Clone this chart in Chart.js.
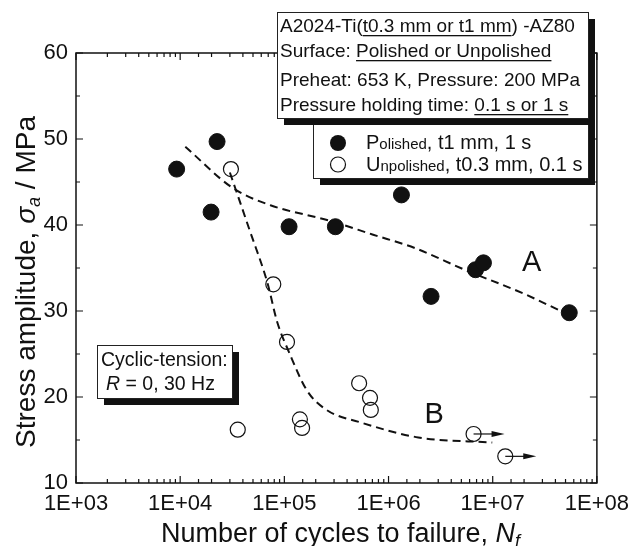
<!DOCTYPE html>
<html>
<head>
<meta charset="utf-8">
<script src="https://cdn.jsdelivr.net/npm/chart.js@4.4.1/dist/chart.umd.min.js"></script>
<style>
  html, body { margin: 0; padding: 0; background: #fff; }
</style>
</head>
<body>
<canvas id="snChart" width="637" height="546"></canvas>
<script>
// Polished, t1 mm, 1 s  (filled circles)
var polishedN = [9.25e3, 2.26e4, 1.98e4, 1.11e5, 3.09e5, 1.33e6, 2.56e6, 6.84e6, 8.15e6, 5.43e7];
var polishedS = [46.5, 49.7, 41.5, 39.8, 39.8, 43.5, 31.7, 34.8, 35.6, 29.8];

// Unpolished, t0.3 mm, 0.1 s  (open circles), last two are run-outs
var unpolishedN = [3.07e4, 7.83e4, 1.06e5, 3.57e4, 1.41e5, 1.48e5, 5.22e5, 6.64e5, 6.76e5, 6.55e6, 1.32e7];
var unpolishedS = [46.5, 33.1, 26.4, 16.2, 17.4, 16.4, 21.6, 19.9, 18.5, 15.7, 13.1];
var unpolishedRunout = [false, false, false, false, false, false, false, false, false, true, true];

// dashed trend curves
var curveAN = [1.12e4, 3.2e4, 7.35e4, 2.72e5, 7.0e5, 1.81e6, 5.37e6, 2.0e7, 4.5e7];
var curveAS = [49.1, 44.3, 42.3, 40.5, 38.9, 37.3, 34.8, 32.0, 30.0];
var curveBN = [3.0e4, 3.42e4, 4.64e4, 6.87e4, 8.55e4, 1.11e5, 1.64e5, 2.54e5, 5.22e5, 1.93e6, 9.9e6];
var curveBS = [46.1, 44.1, 39.4, 33.3, 28.7, 25.2, 20.8, 18.5, 17.1, 15.3, 14.7];

var xMajorTicks = [1e3, 1e4, 1e5, 1e6, 1e7, 1e8];
var yMin = 10, yMax = 60;

var FONT = "'Liberation Sans', Arial, Helvetica, sans-serif";

function toPoints(xs, ys) {
  return xs.map(function(x, i) { return { x: x, y: ys[i] }; });
}

function isMajorX(v) {
  var e = Math.log10(v);
  return Math.abs(e - Math.round(e)) < 1e-6;
}

function expLabel(v) {
  var e = Math.round(Math.log10(v));
  return '1E+' + (e < 10 ? '0' : '') + e;
}

// draw a run of text pieces with different fonts, optional underline
function richText(ctx, parts, x, y, align) {
  var w = 0;
  parts.forEach(function(p) {
    ctx.font = p.font;
    p.w = ctx.measureText(p.t).width;
    w += p.w;
  });
  var cx = align === 'center' ? x - w / 2 : x;
  parts.forEach(function(p) {
    ctx.font = p.font;
    ctx.textAlign = 'left';
    ctx.textBaseline = 'alphabetic';
    ctx.fillText(p.t, cx, y + (p.dy || 0));
    if (p.u) {
      ctx.fillRect(cx, y + 3, p.w, 1.3);
    }
    cx += p.w;
  });
}

function shadowBox(ctx, x, y, w, h) {
  ctx.fillStyle = '#111';
  ctx.fillRect(x + 7, y + 7, w, h);
  ctx.fillStyle = '#fff';
  ctx.fillRect(x, y, w, h);
  ctx.strokeStyle = '#222';
  ctx.lineWidth = 1;
  ctx.strokeRect(x + 0.5, y + 0.5, w, h);
}

var decorations = {
  id: 'decorations',
  afterDraw: function(chart) {
    var ctx = chart.ctx;
    var a = chart.chartArea;
    var xs = chart.scales.x, ys = chart.scales.y;
    ctx.save();

    // frame
    ctx.strokeStyle = '#111';
    ctx.lineWidth = 1.5;
    ctx.strokeRect(a.left, a.top, a.right - a.left, a.bottom - a.top);

    // inward ticks on all four sides
    ctx.lineWidth = 1.2;
    ctx.beginPath();
    xs.ticks.forEach(function(t) {
      var px = xs.getPixelForValue(t.value);
      var len = isMajorX(t.value) ? 7 : 4;
      ctx.moveTo(px, a.bottom); ctx.lineTo(px, a.bottom - len);
      ctx.moveTo(px, a.top); ctx.lineTo(px, a.top + len);
    });
    ys.ticks.forEach(function(t) {
      var py = ys.getPixelForValue(t.value);
      var len = t.value % 10 === 0 ? 7 : 4;
      ctx.moveTo(a.left, py); ctx.lineTo(a.left + len, py);
      ctx.moveTo(a.right, py); ctx.lineTo(a.right - len, py);
    });
    ctx.stroke();

    // run-out arrows
    ctx.fillStyle = '#111';
    ctx.lineWidth = 1.2;
    unpolishedN.forEach(function(n, i) {
      if (!unpolishedRunout[i]) return;
      var px = xs.getPixelForValue(n), py = ys.getPixelForValue(unpolishedS[i]);
      ctx.beginPath();
      ctx.moveTo(px, py); ctx.lineTo(px + 20, py);
      ctx.stroke();
      ctx.beginPath();
      ctx.moveTo(px + 31, py);
      ctx.lineTo(px + 18, py - 3);
      ctx.lineTo(px + 18, py + 3);
      ctx.closePath();
      ctx.fill();
    });

    // curve labels
    ctx.font = '29px ' + FONT;
    ctx.textAlign = 'center';
    ctx.textBaseline = 'middle';
    ctx.fillText('A', xs.getPixelForValue(2.37e7), ys.getPixelForValue(35.6));
    ctx.fillText('B', xs.getPixelForValue(2.74e6), ys.getPixelForValue(17.9));

    // legend box
    shadowBox(ctx, 313, 118, 275, 60);
    ctx.fillStyle = '#111';
    ctx.beginPath(); ctx.arc(338, 143, 8, 0, Math.PI * 2); ctx.fill();
    ctx.strokeStyle = '#111'; ctx.lineWidth = 1.2;
    ctx.beginPath(); ctx.arc(338, 164.5, 7.5, 0, Math.PI * 2); ctx.stroke();
    var big = '20px ' + FONT, small = '15px ' + FONT;
    richText(ctx, [{ t: 'P', font: big }, { t: 'olished', font: small }, { t: ', t1 mm, 1 s', font: big }], 366, 149);
    richText(ctx, [{ t: 'U', font: big }, { t: 'npolished', font: small }, { t: ', t0.3 mm, 0.1 s', font: big }], 366, 171);

    // conditions box
    shadowBox(ctx, 277, 12, 311, 106);
    ctx.fillStyle = '#111';
    var f = '19px ' + FONT;
    richText(ctx, [{ t: 'A2024-Ti(', font: f }, { t: 't0.3 mm or t1 mm', font: f, u: true }, { t: ') -AZ80', font: f }], 280, 32);
    richText(ctx, [{ t: 'Surface: ', font: f }, { t: 'Polished or Unpolished', font: f, u: true }], 280, 57);
    richText(ctx, [{ t: 'Preheat: 653 K, Pressure: 200 MPa', font: f }], 280, 86);
    richText(ctx, [{ t: 'Pressure holding time: ', font: f }, { t: '0.1 s or 1 s', font: f, u: true }], 280, 111);

    // test condition box
    shadowBox(ctx, 97, 345, 135, 53);
    ctx.fillStyle = '#111';
    var f2 = '19.5px ' + FONT;
    richText(ctx, [{ t: 'Cyclic-tension:', font: f2 }], 101, 366);
    richText(ctx, [{ t: 'R', font: 'italic ' + f2 }, { t: ' = 0, 30 Hz', font: f2 }], 106, 390);

    // axis titles
    var tf = '27px ' + FONT;
    richText(ctx, [
      { t: 'Number of cycles to failure, ', font: tf },
      { t: 'N', font: 'italic ' + tf },
      { t: 'f', font: 'italic 18px ' + FONT, dy: 5 }
    ], (a.left + a.right) / 2 + 4, 542, 'center');

    ctx.translate(35, (a.top + a.bottom) / 2 + 14);
    ctx.rotate(-Math.PI / 2);
    var yf = '28px ' + FONT;
    richText(ctx, [
      { t: 'Stress amplitude, ', font: yf },
      { t: '\u03c3', font: 'italic ' + yf },
      { t: 'a', font: 'italic 18px ' + FONT, dy: 5 },
      { t: ' / MPa', font: yf }
    ], 0, 0, 'center');

    ctx.restore();
  }
};

var ctx = document.getElementById('snChart').getContext('2d');
var snChart = new Chart(ctx, {
  type: 'scatter',
  data: {
    datasets: [{
      label: 'Polished, t1 mm, 1 s',
      data: toPoints(polishedN, polishedS),
      pointRadius: 8,
      pointBackgroundColor: '#111',
      pointBorderColor: '#111',
      pointBorderWidth: 1
    }, {
      label: 'Unpolished, t0.3 mm, 0.1 s',
      data: toPoints(unpolishedN, unpolishedS),
      pointRadius: 7.5,
      pointBackgroundColor: 'rgba(0,0,0,0)',
      pointBorderColor: '#111',
      pointBorderWidth: 1.2
    }, {
      label: 'A',
      data: toPoints(curveAN, curveAS),
      showLine: true,
      pointRadius: 0,
      borderColor: '#111',
      borderWidth: 2,
      borderDash: [8, 5],
      cubicInterpolationMode: 'monotone'
    }, {
      label: 'B',
      data: toPoints(curveBN, curveBS),
      showLine: true,
      pointRadius: 0,
      borderColor: '#111',
      borderWidth: 2,
      borderDash: [8, 5],
      cubicInterpolationMode: 'monotone'
    }]
  },
  options: {
    responsive: false,
    animation: false,
    devicePixelRatio: 1,
    layout: { padding: { top: 53, right: 33, left: 0, bottom: 0 } },
    plugins: {
      legend: { display: false },
      tooltip: { enabled: false }
    },
    scales: {
      x: {
        type: 'logarithmic',
        min: xMajorTicks[0],
        max: xMajorTicks[xMajorTicks.length - 1],
        grid: { display: false, drawTicks: false },
        border: { display: false },
        afterFit: function(scale) { scale.height = 63; },
        ticks: {
          autoSkip: false,
          maxRotation: 0,
          padding: 8,
          color: '#111',
          font: { family: FONT, size: 22 },
          callback: function(v) { return isMajorX(v) ? expLabel(v) : ''; }
        }
      },
      y: {
        min: yMin,
        max: yMax,
        grid: { display: false, drawTicks: false },
        border: { display: false },
        afterFit: function(scale) { scale.width = 76; },
        ticks: {
          stepSize: 5,
          padding: 8,
          color: '#111',
          font: { family: FONT, size: 22 },
          callback: function(v) { return v % 10 === 0 ? String(v) : ''; }
        }
      }
    }
  },
  plugins: [decorations]
});
</script>
</body>
</html>
